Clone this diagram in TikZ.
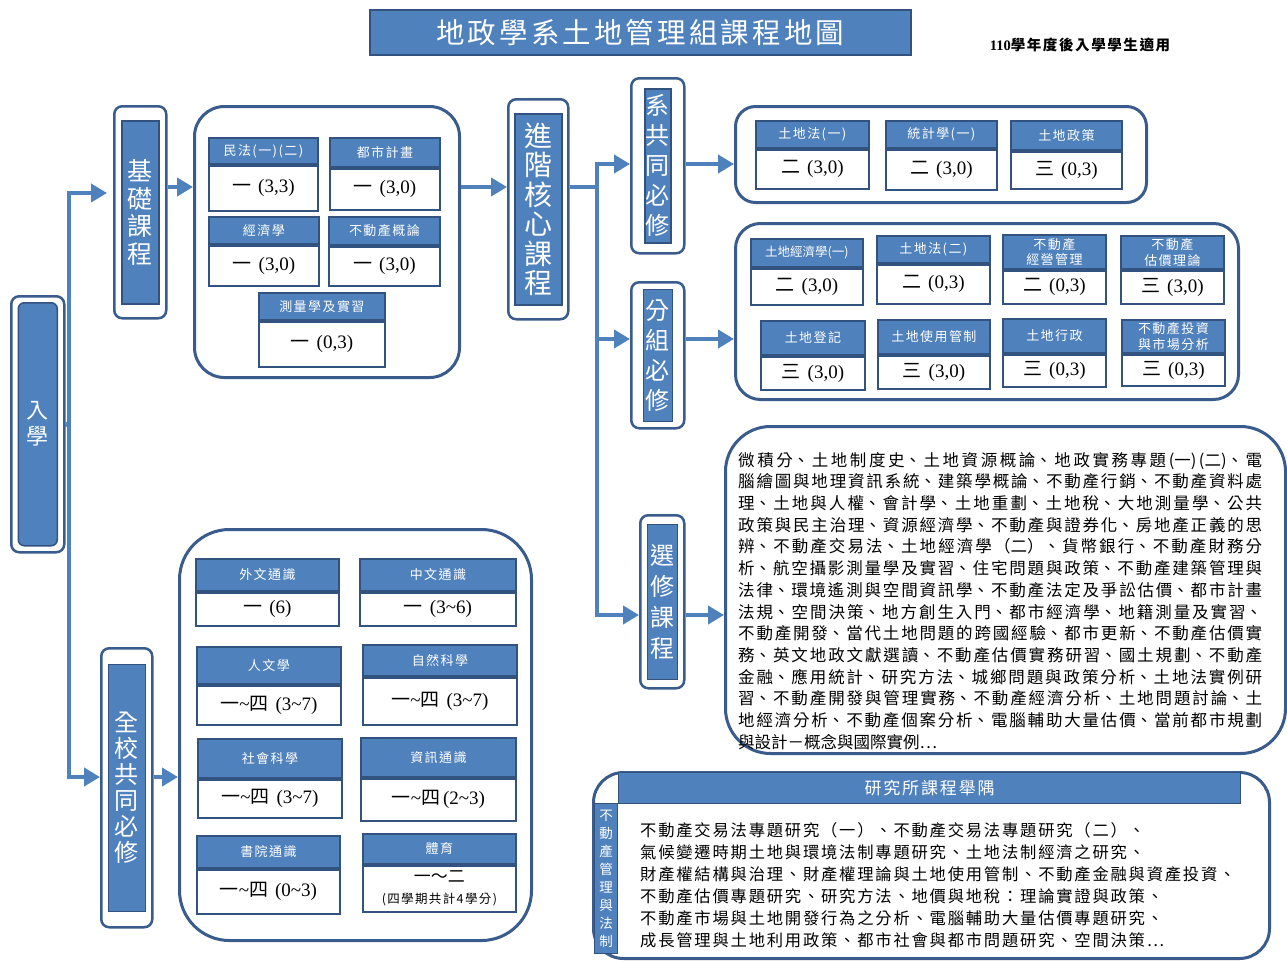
\documentclass[tikz,border=0pt]{standalone}
\usepackage{fontspec}
\setmainfont{Liberation Serif}
\newfontfamily\cjk{Noto Sans CJK TC}
\newfontfamily\cjks[LetterSpace=11]{Noto Sans CJK TC}
\usetikzlibrary{arrows.meta}
\XeTeXlinebreaklocale "zh"
\XeTeXlinebreakskip=0pt plus 1pt

\definecolor{hblue}{RGB}{79,129,189}
\definecolor{bdr}{RGB}{50,82,128}
\definecolor{gbdr}{RGB}{58,92,140}

\newcommand\lsp[1]{\XeTeXlinebreakskip=#1\relax}
\newcommand\hdrfont{\cjks\fontsize{13}{15.5}\selectfont}
\newcommand\bd[2]{{\cjk #1}\hspace{7pt}#2}
\newcommand\tl{\textasciitilde}
\newcommand\yf{{\cjk 一}\textasciitilde{\cjk 四}}
\newcommand\crs[8]{%
  \node[hdr,minimum width=#4pt,minimum height=#5pt] (#1h) at (#2,#3) {#7};
  \node[bdy,minimum width=#4pt,minimum height=#6pt] (#1b) at (#1h.south) {#8};
}

\tikzset{
  hdr/.style={draw=bdr, fill=hblue, text=white, line width=1.8pt, inner sep=0pt, anchor=north west, align=center, font=\hdrfont},
  bdy/.style={draw=bdr, fill=white, line width=1.8pt, inner sep=0pt, anchor=north, align=center, font=\fontsize{19}{21}\selectfont},
  grp/.style={draw=gbdr, fill=white, line width=3pt, anchor=north west, inner sep=0pt},
  vout/.style={draw=gbdr, fill=white, line width=2.5pt, rounded corners=8pt, anchor=north west, inner sep=0pt},
  vin/.style={draw=bdr, fill=hblue, line width=1.5pt, text=white, anchor=center, inner sep=0pt, align=center},
  arr/.style={draw=hblue, line width=4.5pt, -{Triangle[length=16pt,width=18pt]}},
  ln/.style={draw=hblue, line width=4.5pt},
}

\begin{document}
\begin{tikzpicture}[x=1pt,y=-1pt]
\useasboundingbox (0,0) rectangle (1287,961);
\fill[white] (0,0) rectangle (1287,961);

% title
\node[draw=bdr, fill=hblue, line width=1.5pt, minimum width=541pt, minimum height=45pt, anchor=north west, inner sep=0pt, text=white, font=\cjks\fontsize{28.5}{30}\selectfont] (title) at (369,9) {地政學系土地管理組課程地圖};
\node[font=\bfseries\fontsize{14.5}{16}\selectfont] (note) at (1080,45) {110{\cjks 學年度後入學學生適用}};

% vertical labels
\node[vout, minimum width=53pt, minimum height=256pt] (ru) at (10,295) {};
\node[vin, rounded corners=6pt, minimum width=39pt, minimum height=243pt, font=\cjk\fontsize{22}{26}\selectfont] (rui) at (ru.center) {入\\學};

\node[vout, minimum width=52pt, minimum height=212pt] (jc) at (113,105) {};
\node[vin, minimum width=37pt, minimum height=183pt, font=\cjk\fontsize{25}{27.5}\selectfont] (jci) at (jc.center) {基\\礎\\課\\程};

\node[vout, minimum width=60pt, minimum height=220pt] (jj) at (507,98) {};
\node[vin, minimum width=47pt, minimum height=191pt, font=\cjk\fontsize{28}{29.5}\selectfont] (jji) at (jj.center) {進\\階\\核\\心\\課\\程};

\node[vout, minimum width=53pt, minimum height=175pt] (xi) at (630,77) {};
\node[vin, minimum width=26pt, minimum height=154pt, font=\cjk\fontsize{24}{30}\selectfont] (xii) at (xi.center) {系\\共\\同\\必\\修};

\node[vout, minimum width=53pt, minimum height=146pt] (fz) at (630,281) {};
\node[vin, minimum width=29pt, minimum height=132pt, font=\cjk\fontsize{24}{30}\selectfont] (fzi) at (fz.center) {分\\組\\必\\修};

\node[vout, minimum width=44pt, minimum height=173pt] (xx) at (639,514) {};
\node[vin, minimum width=30pt, minimum height=155pt, font=\cjk\fontsize{24}{31}\selectfont] (xxi) at (xx.center) {選\\修\\課\\程};

\node[vout, minimum width=51pt, minimum height=279pt] (qx) at (100,647) {};
\node[vin, minimum width=37pt, minimum height=247pt, font=\cjk\fontsize{24}{26}\selectfont] (qxi) at (qx.center) {全\\校\\共\\同\\必\\修};

% group boxes
\node[grp, rounded corners=30pt, minimum width=265pt, minimum height=271pt] (g1) at (193,105) {};
\node[grp, rounded corners=20pt, minimum width=411pt, minimum height=96pt] (g2) at (734,105) {};
\node[grp, rounded corners=25pt, minimum width=503pt, minimum height=176pt] (g3) at (734,222) {};
\node[grp, rounded corners=45pt, minimum width=560pt, minimum height=327pt] (g4) at (724,425) {};
\node[grp, rounded corners=50pt, minimum width=352pt, minimum height=411pt] (g5) at (178,528) {};
\node[grp, rounded corners=30pt, minimum width=676pt, minimum height=186pt] (g6) at (592,771) {};

% basic courses
\crs{mf}{208}{137}{109}{26}{45}{民法(一)(二)}{\bd{一}{(3,3)}}
\crs{ds}{329}{137}{110}{29}{41}{都市計畫}{\bd{一}{(3,0)}}
\crs{jx}{208}{216}{110}{27}{40}{經濟學}{\bd{一}{(3,0)}}
\crs{bg}{328}{216}{111}{28}{39}{不動產概論}{\bd{一}{(3,0)}}
\crs{cl}{258}{292}{126}{27}{45}{測量學及實習}{\bd{一}{(0,3)}}

% department required
\crs{tda}{755}{120}{113}{27}{39}{土地法(一)}{\bd{二}{(3,0)}}
\crs{tj}{885}{120}{111}{27}{40}{統計學(一)}{\bd{二}{(3,0)}}
\crs{tz}{1010}{120}{111}{29}{37}{土地政策}{\bd{三}{(0,3)}}

% group required
\crs{tja}{750}{238}{112}{28}{36}{{\cjk\fontsize{12.5}{14}\selectfont 土地經濟學(一)}}{\bd{二}{(3,0)}}
\crs{tdb}{876}{235}{113}{27}{39}{土地法(二)}{\bd{二}{(0,3)}}
\crs{jy}{1002}{234}{103}{34}{33}{不動產\\經營管理}{\bd{二}{(0,3)}}
\crs{gj}{1120}{235}{103}{33}{33}{不動產\\估價理論}{\bd{三}{(3,0)}}
\crs{dj}{760}{320}{104}{34}{33}{土地登記}{\bd{三}{(3,0)}}
\crs{sy}{877}{319}{112}{34}{33}{土地使用管制}{\bd{三}{(3,0)}}
\crs{xz}{1002}{318}{103}{34}{32}{土地行政}{\bd{三}{(0,3)}}
\crs{tzb}{1121}{319}{103}{33}{31}{不動產投資\\與市場分析}{\bd{三}{(0,3)}}

% school required
\crs{ww}{195}{558}{143}{32}{33}{外文通識}{\bd{一}{(6)}}
\crs{zw}{359}{558}{156}{32}{33}{中文通識}{\bd{一}{(3\tl6)}}
\crs{rw}{196}{646}{144}{37}{39}{人文學}{\yf\hspace{7pt}(3\tl7)}
\crs{zr}{362}{644}{154}{31}{47}{自然科學}{\yf\hspace{7pt}(3\tl7)}
\crs{sh}{197}{738}{144}{39}{38}{社會科學}{\yf\hspace{7pt}(3\tl7)}
\crs{zx}{360}{737}{155}{39}{42}{資訊通識}{\yf\hspace{3pt}(2\tl3)}
\crs{syt}{196}{835}{143}{32}{44}{書院通識}{\yf\hspace{7pt}(0\tl3)}
\crs{ty}{362}{833}{153}{30}{46}{體育}{{\cjk\fontsize{17}{19}\selectfont 一～二}\\{\cjks\fontsize{12.5}{15}\selectfont(四學期共計4學分)}}

% electives text
\node[anchor=north west, text width=524pt, align=justify, inner sep=0pt, font=\cjk\fontsize{16.5}{21.7}\selectfont\lsp{0pt plus 4pt}] (elt) at (738,452) {\noindent
微積分、土地制度史、土地資源概論、地政實務專題(一)(二)、電\linebreak
腦繪圖與地理資訊系統、建築學概論、不動產行銷、不動產資料處\linebreak
理、土地與人權、會計學、土地重劃、土地稅、大地測量學、公共\linebreak
政策與民主治理、資源經濟學、不動產與證券化、房地產正義的思\linebreak
辨、不動產交易法、土地經濟學（二）、貨幣銀行、不動產財務分\linebreak
析、航空攝影測量學及實習、住宅問題與政策、不動產建築管理與\linebreak
法律、環境遙測與空間資訊學、不動產法定及爭訟估價、都市計畫\linebreak
法規、空間決策、地方創生入門、都市經濟學、地籍測量及實習、\linebreak
不動產開發、當代土地問題的跨國經驗、都市更新、不動產估價實\linebreak
務、英文地政文獻選讀、不動產估價實務研習、國土規劃、不動產\linebreak
金融、應用統計、研究方法、城鄉問題與政策分析、土地法實例研\linebreak
習、不動產開發與管理實務、不動產經濟分析、土地問題討論、土\linebreak
地經濟分析、不動產個案分析、電腦輔助大量估價、當前都市規劃\linebreak
與設計－概念與國際實例…};

% graduate box
\node[fill=hblue, draw=bdr, line width=1.2pt, minimum width=622pt, minimum height=31pt, anchor=north west, inner sep=0pt, text=white, font=\cjks\fontsize{17}{19}\selectfont] (rh) at (618,772) {研究所課程舉隅};
\node[fill=hblue, draw=bdr, line width=1pt, minimum width=23pt, minimum height=150pt, anchor=north west, inner sep=0pt, text=white, align=center, font=\cjk\fontsize{13.5}{18}\selectfont] (rs) at (594,803) {不\\動\\產\\管\\理\\與\\法\\制};
\node[anchor=north west, align=left, inner sep=0pt, font=\cjks\fontsize{16.3}{22}\selectfont] (rt) at (640,822) {不動產交易法專題研究（一）、不動產交易法專題研究（二）、\\
氣候變遷時期土地與環境法制專題研究、土地法制經濟之研究、\\
財產權結構與治理、財產權理論與土地使用管制、不動產金融與資產投資、\\
不動產估價專題研究、研究方法、地價與地稅：理論實證與政策、\\
不動產市場與土地開發行為之分析、電腦輔助大量估價專題研究、\\
成長管理與土地利用政策、都市社會與都市問題研究、空間決策…};

% connectors
\coordinate (r0) at (0,193);
\coordinate (r1) at (0,187);
\coordinate (r2) at (0,164);
\coordinate (r3) at (0,339);
\coordinate (r4) at (0,615);
\coordinate (r5) at (0,777);
\coordinate (rj) at (69,425);
\coordinate (jn) at (597,187);

\draw[ln] (ru.east) -- (rj);
\draw[arr, shorten >=6pt] (rj) |- (jc.west |- r0);
\draw[arr] (rj) |- (qx.west |- r5);
\draw[arr] (jc.east |- r1) -- (g1.west |- r1);
\draw[arr] (g1.east |- r1) -- (jj.west |- r1);
\draw[ln] (jj.east |- r1) -- (jn);
\draw[arr] (jn) |- (xi.west |- r2);
\draw[arr] (jn) |- (fz.west |- r3);
\draw[arr] (jn) |- (xx.west |- r4);
\draw[arr] (xi.east |- r2) -- (g2.west |- r2);
\draw[arr] (fz.east |- r3) -- (g3.west |- r3);
\draw[arr] (xx.east |- r4) -- (g4.west |- r4);
\draw[arr] (qx.east |- r5) -- (g5.west |- r5);
\end{tikzpicture}
\end{document}
